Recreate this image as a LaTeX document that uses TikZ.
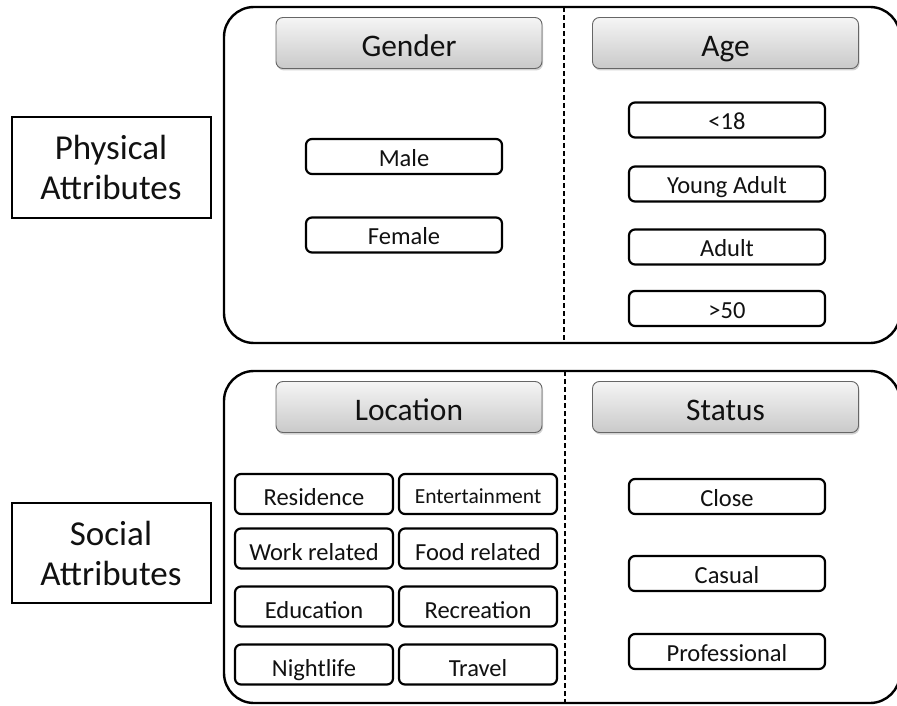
\documentclass[tikz,border=0pt]{standalone}
\usepackage{fontspec}
\setmainfont{Carlito}
\usetikzlibrary{shadows}
\definecolor{txt}{HTML}{111111}
\tikzset{
  bigbox/.style={draw=black, line width=2.4pt, rounded corners=30pt},
  divider/.style={draw=black, line width=2pt, dash pattern=on 5pt off 3pt},
  header/.style={draw=black!60, line width=0.9pt, rounded corners=7pt,
    top color=white!96!black, bottom color=white!79!black,
    minimum width=266pt, minimum height=51pt, inner sep=0pt,
    font=\fontsize{31.4}{36}\selectfont, text=txt, text height=27pt, text depth=0pt,
    drop shadow={shadow xshift=1pt, shadow yshift=-2pt, opacity=0.35}},
  opt/.style={draw=black, line width=2.2pt, rounded corners=6pt, fill=white,
    minimum width=196pt, minimum height=35pt, inner sep=0pt,
    font=\fontsize{24.5}{28}\selectfont, text=txt, text height=19.8pt, text depth=0pt},
  loc/.style={opt, minimum width=158pt, minimum height=40pt, text height=23pt},
  side/.style={draw=black, line width=2pt, minimum width=199pt, minimum height=100pt,
    inner sep=0pt, align=center, font=\fontsize{35}{40}\selectfont, text=txt}
}
\begin{document}
\begin{tikzpicture}[x=1pt,y=-1pt]
\useasboundingbox (0,0) rectangle (897,706);
\fill[white] (0,0) rectangle (897,706);
% big boxes
\draw[bigbox] (224,7) rectangle (900,343);
\draw[bigbox] (224,371) rectangle (900,703);
\coordinate (d1t) at (564,7);
\coordinate (d1b) at (564,343);
\coordinate (d2t) at (565,371);
\coordinate (d2b) at (565,703);
\draw[divider] (d1t) -- (d1b);
\draw[divider] (d2t) -- (d2b);
% side labels
\node[side] (phys) at (111,167.5) {Physical\\Attributes};
\node[side] (soc) at (111,553) {Social\\Attributes};
% headers
\node[header] (gender) at (409,43) {Gender};
\node[header] (age) at (725.5,43) {Age};
\node[header] (location) at (409,407) {Location};
\node[header] (status) at (725.5,407) {Status};
% gender options
\node[opt] (male) at (404,156.5) {Male};
\node[opt] (female) at (404,235) {Female};
% age options
\node[opt] (u18) at (727,120) {<18};
\node[opt] (young) at (727,184) {Young Adult};
\node[opt] (adult) at (727,247) {Adult};
\node[opt] (o50) at (727,308.5) {>50};
% location options
\node[loc] (res) at (314,494) {Residence};
\node[loc, font=\fontsize{21.5}{25}\selectfont, text height=19pt] (ent) at (478,494) {Entertainment};
\node[loc] (work) at (314,548.5) {Work related};
\node[loc] (food) at (478,548.5) {Food related};
\node[loc] (edu) at (314,606.5) {Education};
\node[loc] (rec) at (478,606.5) {Recreation};
\node[loc] (night) at (314,664.5) {Nightlife};
\node[loc] (travel) at (478,664.5) {Travel};
% status options
\node[opt] (close) at (727,496.5) {Close};
\node[opt] (casual) at (727,573.5) {Casual};
\node[opt] (prof) at (727,651.5) {Professional};
\end{tikzpicture}
\end{document}
